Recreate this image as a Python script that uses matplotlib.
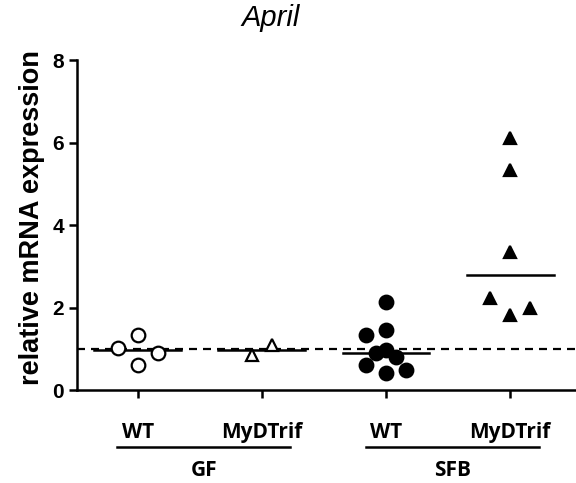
import numpy as np
import matplotlib
matplotlib.use("Agg")
import matplotlib.pyplot as plt

# =========================
# Data
# =========================

groups = ["GF", "SFB"]
genotypes = ["WT", "MyDTrif", "WT", "MyDTrif"]

gf_wt = [1.02, 1.33, 0.90, 0.61]
gf_wt_x = [-0.16, 0.0, 0.16, 0.0]

gf_myd = [0.85, 1.09]
gf_myd_x = [-0.08, 0.08]

sfb_wt = [2.13, 1.33, 1.45, 0.97, 0.90, 0.80, 0.61, 0.41, 0.48]
sfb_wt_x = [0.0, -0.16, 0.0, 0.0, -0.08, 0.08, -0.16, 0.0, 0.16]

sfb_myd = [6.10, 5.33, 3.35, 2.23, 1.82, 1.99]
sfb_myd_x = [0.0, 0.0, 0.0, -0.16, 0.0, 0.16]

series = [
    (gf_wt, gf_wt_x, "o", "white"),
    (gf_myd, gf_myd_x, "^", "white"),
    (sfb_wt, sfb_wt_x, "o", "black"),
    (sfb_myd, sfb_myd_x, "^", "black"),
]

baseline = 1.0

# =========================
# Figure
# =========================

fig = plt.figure(figsize=(5.76, 4.83), dpi=100)
ax = fig.add_axes([0.1337, 0.1925, 0.864, 0.6832])

ax.axhline(baseline, color="black", lw=1.6, dashes=(3.6, 2.7), zorder=1)

for i, (vals, offs, mk, fc) in enumerate(series):
    xs = np.array(offs) + i
    ax.plot(xs, vals, linestyle="none", marker=mk, markersize=9.8 if mk == "o" else 9,
            markerfacecolor=fc, markeredgecolor="black", markeredgewidth=1.6,
            zorder=3, clip_on=False)
    med = np.median(vals)
    ax.plot([i - 0.35, i + 0.35], [med, med], color="black", lw=1.8, zorder=2)

ax.set_xlim(-0.49, 3.52)
ax.set_ylim(0, 8)
ax.set_yticks([0, 2, 4, 6, 8])
ax.set_xticks(range(4))
ax.set_xticklabels(genotypes, fontfamily="Open Sans", fontweight="bold", fontsize=15)

for side in ["top", "right"]:
    ax.spines[side].set_visible(False)
for side in ["left", "bottom"]:
    ax.spines[side].set_linewidth(1.8)

ax.tick_params(axis="both", width=1.8, length=6, color="black")
ax.tick_params(axis="x", pad=17)
for lbl in ax.get_yticklabels():
    lbl.set_fontfamily("Liberation Sans")
    lbl.set_fontweight("bold")
    lbl.set_fontsize(15)

ax.set_ylabel("relative mRNA expression", fontfamily="Liberation Sans",
              fontweight="bold", fontsize=19.5)
ax.yaxis.set_label_coords(-0.064, 0.524)

# group brackets under the genotype labels
trans = ax.get_xaxis_transform()
group_spans = [(-0.17, 1.23), (1.84, 3.23)]
for name, (x0, x1) in zip(groups, group_spans):
    ax.plot([x0, x1], [-0.173, -0.173], color="black", lw=1.8,
            transform=trans, clip_on=False)
    ax.text((x0 + x1) / 2, -0.245, name, transform=trans, ha="center", va="center",
            fontfamily="Open Sans", fontweight="bold", fontsize=15)

fig.text(0.469, 0.962, "April", ha="center", va="center", fontsize=21,
         fontstyle="italic", fontfamily="Liberation Sans")

fig.savefig("out.png", dpi=100)
